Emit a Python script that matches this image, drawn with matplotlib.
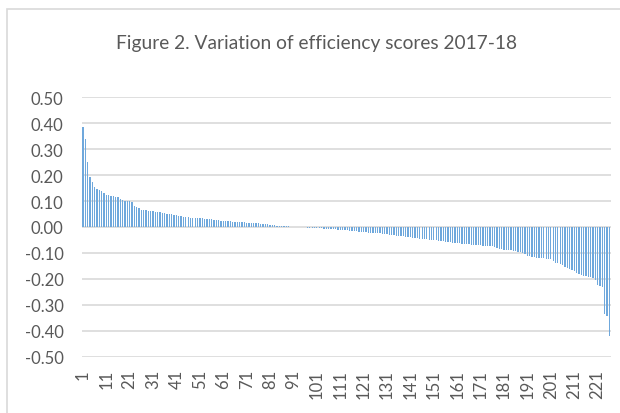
import matplotlib
matplotlib.use("Agg")
import matplotlib.pyplot as plt
import numpy as np
from matplotlib.patches import Rectangle

title = "Figure 2. Variation of efficiency scores 2017-18"

scores = [
    0.387, 0.338, 0.249, 0.191, 0.173, 0.153, 0.147, 0.142, 0.140, 0.131,
    0.123, 0.123, 0.120, 0.119, 0.115, 0.114, 0.108, 0.105, 0.101, 0.100,
    0.100, 0.098, 0.081, 0.076, 0.073, 0.067, 0.065, 0.064, 0.063, 0.062,
    0.060, 0.058, 0.058, 0.056, 0.054, 0.053, 0.051, 0.051,
    0.049, 0.047, 0.045, 0.042, 0.041, 0.040, 0.039, 0.038, 0.036, 0.036, 0.035, 0.035,
    0.034, 0.033, 0.032, 0.031, 0.029, 0.029, 0.028, 0.027, 0.026, 0.025,
    0.024, 0.023, 0.023, 0.022, 0.021, 0.021, 0.020, 0.019, 0.018, 0.018,
    0.017, 0.017, 0.016, 0.015, 0.014, 0.014, 0.013, 0.012, 0.011, 0.010,
    0.009, 0.008, 0.007, 0.005, 0.004, 0.003, 0.003, 0.002, 0.002, 0.001,
    0.001, 0.001, 0.000, 0.000, -0.001, -0.001, -0.002, -0.003, -0.003, -0.004,
    -0.004, -0.005, -0.005, -0.006, -0.006, -0.007, -0.008, -0.008, -0.009, -0.010,
    -0.011, -0.011, -0.012, -0.013, -0.014, -0.015, -0.016, -0.017, -0.018, -0.019,
    -0.020, -0.021, -0.022, -0.023, -0.023, -0.024, -0.024, -0.025, -0.026, -0.027,
    -0.028, -0.029, -0.030, -0.031, -0.033, -0.034, -0.035, -0.036, -0.037, -0.039,
    -0.040, -0.041, -0.042, -0.043, -0.045, -0.046, -0.047, -0.048, -0.049, -0.050,
    -0.051, -0.052, -0.053, -0.054, -0.055, -0.056, -0.057, -0.058, -0.060, -0.061,
    -0.062, -0.063, -0.064, -0.065, -0.066, -0.067, -0.068, -0.069, -0.070, -0.071,
    -0.071, -0.072, -0.072, -0.073, -0.073, -0.075, -0.078, -0.081, -0.085, -0.086,
    -0.087, -0.088, -0.088, -0.090, -0.092, -0.094, -0.096, -0.097, -0.100, -0.104,
    -0.110, -0.113, -0.115, -0.117, -0.118, -0.119, -0.120, -0.121, -0.122, -0.123,
    -0.125, -0.130, -0.138, -0.140, -0.142, -0.148, -0.155, -0.158, -0.162, -0.166,
    -0.170, -0.176, -0.181, -0.185, -0.188, -0.190, -0.192, -0.194, -0.198, -0.203,
    -0.223, -0.229, -0.232, -0.335, -0.345, -0.422,
]
units = list(range(1, len(scores) + 1))
x_ticks = list(range(1, len(scores) + 1, 10))
y_ticks = [-0.5, -0.4, -0.3, -0.2, -0.1, 0.0, 0.1, 0.2, 0.3, 0.4, 0.5]

plt.rcParams['font.family'] = ['Lato', 'DejaVu Sans']
text_color = '#595959'
grid_color = '#D9D9D9'
bar_color = '#6FA8DC'

fig = plt.figure(figsize=(6.2, 4.14), dpi=100)
W, H = 620, 414
# chart-area border (cropped on right and bottom)
fig.patches.append(Rectangle((7 / W, -0.05), 1.1, 1 - 9.5 / H + 0.05,
                             transform=fig.transFigure, fill=False,
                             edgecolor=grid_color, linewidth=1.2))

ax = fig.add_axes([81.7 / W, 1 - 357.7 / H, (610.5 - 81.7) / W, (357.7 - 98.3) / H])
ax.bar(units, scores, width=0.55, color=bar_color, linewidth=0, zorder=3)
ax.set_xlim(0.5, len(scores) + 0.5)
ax.set_ylim(-0.5, 0.5)
ax.set_yticks(y_ticks)
ax.set_yticklabels([f"{v:.2f}" for v in y_ticks])
ax.set_xticks(x_ticks)
ax.set_xticklabels([str(v) for v in x_ticks], rotation=90)
ax.grid(axis='y', color=grid_color, linewidth=1.2, zorder=0)
ax.grid(axis='x', visible=False)
for s in ax.spines.values():
    s.set_visible(False)
ax.tick_params(axis='y', length=0, pad=13, labelsize=12, labelcolor=text_color)
ax.tick_params(axis='x', length=0, pad=9, labelsize=12, labelcolor=text_color)

fig.text(316 / W, 1 - 43 / H, title, ha='center', va='center',
         fontsize=13.8, color=text_color)

fig.savefig('out.png', dpi=100)
